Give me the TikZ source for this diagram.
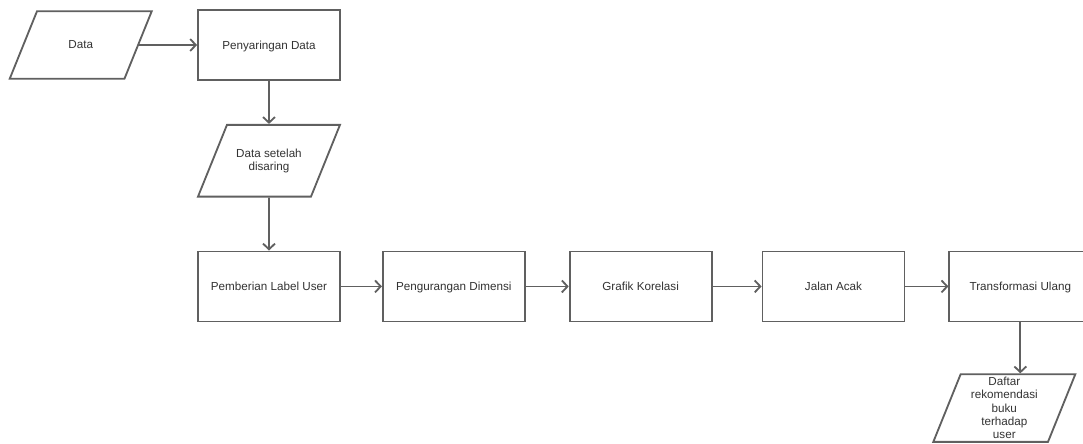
\documentclass[tikz,border=0pt]{standalone}
\usepackage{fontspec}
\setmainfont{Liberation Sans}
\usetikzlibrary{positioning,shapes.geometric,arrows.meta}

\definecolor{garis}{HTML}{606060}
\definecolor{teks}{HTML}{333333}

\tikzset{
	proses/.style={draw=garis, line width=1.3pt, fill=white, minimum width=3.55cm, minimum height=1.75cm, inner sep=0pt, text height=1.6ex, text depth=0.5ex, text=teks, font=\fontsize{8.3}{9.5}\selectfont},
	dataio/.style={trapezium, trapezium left angle=68, trapezium right angle=112, trapezium stretches body=true, draw=garis, line width=1.3pt, fill=white, minimum width=3.55cm, inner xsep=0pt, inner ysep=#1, align=center, text=teks, font=\fontsize{8.3}{9.5}\selectfont},
	alur/.style={draw=garis, line width=1.3pt, -{Straight Barb[length=4pt,width=8.5pt]}},
}

\begin{document}
\begin{tikzpicture}
	\useasboundingbox (0,0) rectangle (27.075,-11.075);
	\clip (0,0) rectangle (27.075,-11.075);
	
	\node[proses] (saring) at (6.725,-1.125) {Penyaringan Data};
	\node[dataio=21.1pt, left=1.45cm of saring] (data) {Data};
	\node[dataio=16.9pt, below=1.075cm of saring] (tersaring) {Data setelah\\disaring};
	
	\node[proses, below=1.325cm of tersaring] (label) {Pemberian Label User};
	\node[proses, right=1.025cm of label] (reduksi) {Pengurangan Dimensi};
	\node[proses, right=1.075cm of reduksi] (korelasi) {Grafik Korelasi};
	\node[proses, right=1.225cm of korelasi] (acak) {Jalan Acak};
	\node[proses, right=1.075cm of acak] (transformasi) {Transformasi Ulang};
	
	\node[dataio=2pt, below=1.275cm of transformasi, xshift=-0.4cm] (rekomendasi) {Daftar\\rekomendasi\\buku\\terhadap\\user};
	
	\draw[alur] (data) -- (saring);
	\draw[alur] (saring) -- (tersaring);
	\draw[alur] (tersaring) -- (label);
	\draw[alur] (label) -- (reduksi);
	\draw[alur] (reduksi) -- (korelasi);
	\draw[alur] (korelasi) -- (acak);
	\draw[alur] (acak) -- (transformasi);
	\draw[alur] (transformasi) -- (transformasi |- rekomendasi.north);
\end{tikzpicture}
\end{document}
